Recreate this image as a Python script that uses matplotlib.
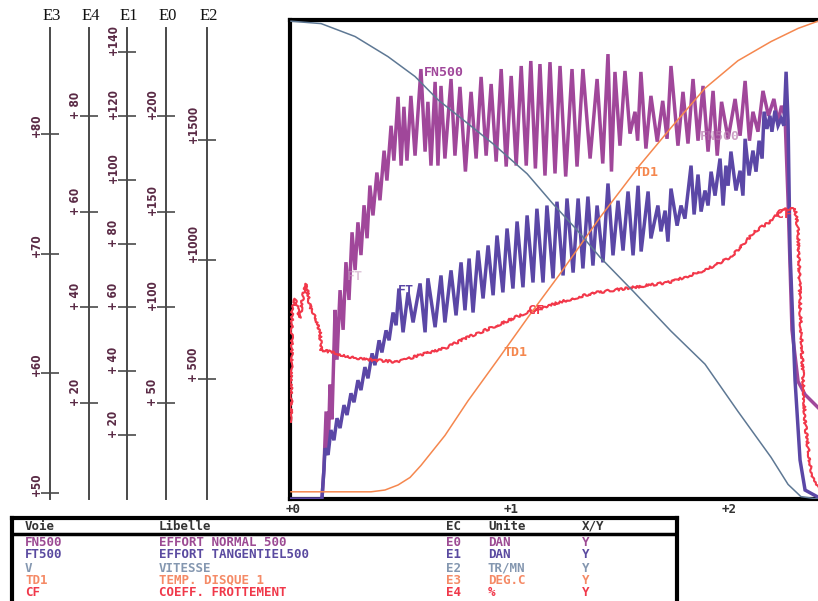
import matplotlib
matplotlib.use("Agg")
import matplotlib.pyplot as plt
from matplotlib.transforms import ScaledTranslation

W, H, DPI = 818, 601, 100

# ---------------- data ----------------
scale_order = ["E3", "E4", "E1", "E0", "E2"]
scale_lims = {"E0": (0, 250), "E1": (0, 150), "E2": (0, 2000),
              "E3": (49.5, 89.5), "E4": (0, 100)}
scale_ticks = {
    "E3": [50, 60, 70, 80],
    "E4": [20, 40, 60, 80],
    "E1": [20, 40, 60, 80, 100, 120, 140],
    "E0": [50, 100, 150, 200],
    "E2": [500, 1000, 1500],
}
scale_tick_labels = {
    "E3": ["+50", "+60", "+70", "+80"],
    "E4": ["+ 20", "+ 40", "+ 60", "+ 80"],
    "E1": ["+ 20", "+ 40", "+ 60", "+ 80", "+100", "+120", "+140"],
    "E0": ["+ 50", "+100", "+150", "+200"],
    "E2": ["+ 500", "+1000", "+1500"],
}
x_ticks = [0, 1, 2]
x_tick_labels = ["+0", "+1", "+2"]

# FN500 (E0, DAN)
fn_t = [0.0, 0.142, 0.151, 0.161, 0.170, 0.179, 0.188, 0.202, 0.211, 0.225, 0.239, 0.252,
        0.266, 0.280, 0.294, 0.307, 0.321, 0.335, 0.349, 0.362, 0.376, 0.394, 0.408, 0.427,
        0.440, 0.459, 0.472, 0.491, 0.505, 0.518, 0.532, 0.550, 0.569, 0.596, 0.615, 0.628,
        0.642, 0.661, 0.674, 0.688, 0.706, 0.734, 0.752, 0.775, 0.800, 0.826, 0.849, 0.872,
        0.895, 0.918, 0.941, 0.964, 0.987, 1.010, 1.033, 1.056, 1.079, 1.100, 1.121, 1.142,
        1.165, 1.188, 1.211, 1.234, 1.260, 1.289, 1.312, 1.339, 1.372, 1.404, 1.430, 1.454,
        1.470, 1.486, 1.509, 1.532, 1.555, 1.578, 1.590, 1.605, 1.628, 1.651, 1.680, 1.705,
        1.725, 1.743, 1.775, 1.798, 1.821, 1.844, 1.867, 1.890, 1.913, 1.936, 1.955, 1.975,
        2.005, 2.037, 2.060, 2.083, 2.103, 2.119, 2.142, 2.165, 2.190, 2.215, 2.234, 2.250,
        2.266, 2.280, 2.298, 2.326, 2.358, 2.417]
fn_v = [0, 0, 15.6, 45.7, 23.4, 59.7, 41.6, 98.7, 72.7, 109, 88.3, 123.6,
        103.9, 139.2, 119.5, 144.4, 127.3, 153.3, 136.1, 163.6, 148, 170.4, 155.9, 181.8,
        166.2, 194.8, 176.6, 209.9, 174, 204.7, 176.6, 210.4, 179.2, 224.4, 181.3, 207.3,
        174, 217.7, 174, 215.6, 177.7, 219.2, 179.2, 215.1, 170.9, 212.5, 177.7, 220.3,
        179.2, 216.6, 176.1, 224.4, 173.5, 220.8, 174, 226, 174, 228.6, 172.5, 227,
        168.8, 228, 169.9, 226, 168.3, 224.4, 173.5, 224.4, 177.7, 219.2, 175.1, 232.2,
        170.9, 222.9, 184.4, 223.4, 190.7, 202.1, 187, 222.9, 182.9, 210.4, 186.5, 207.8,
        188, 226, 184.4, 212.5, 185.5, 219.2, 187, 215.6, 181.3, 213, 179.2, 207.3,
        188.1, 208.8, 189.6, 218.2, 187, 202.1, 191.7, 213, 200, 208.8, 196.9, 205.2,
        200, 155.9, 88.3, 61.3, 54.5, 47.8]

# FT500 (E1, DAN)
ft_t = [0.0, 0.142, 0.151, 0.156, 0.170, 0.183, 0.197, 0.211, 0.225, 0.243, 0.257, 0.275,
        0.289, 0.307, 0.321, 0.339, 0.353, 0.372, 0.385, 0.404, 0.417, 0.436, 0.450, 0.468,
        0.482, 0.495, 0.514, 0.537, 0.560, 0.592, 0.615, 0.628, 0.661, 0.688, 0.706, 0.734,
        0.757, 0.780, 0.798, 0.817, 0.835, 0.858, 0.881, 0.904, 0.927, 0.945, 0.972, 0.991,
        1.018, 1.037, 1.064, 1.083, 1.110, 1.128, 1.156, 1.174, 1.202, 1.220, 1.248, 1.266,
        1.294, 1.317, 1.339, 1.362, 1.385, 1.404, 1.431, 1.454, 1.477, 1.500, 1.523, 1.546,
        1.569, 1.592, 1.606, 1.638, 1.651, 1.683, 1.697, 1.716, 1.729, 1.743, 1.771, 1.789,
        1.807, 1.835, 1.849, 1.867, 1.881, 1.899, 1.913, 1.927, 1.945, 1.968, 1.982, 1.995,
        2.005, 2.018, 2.041, 2.060, 2.073, 2.083, 2.101, 2.119, 2.133, 2.147, 2.161, 2.170,
        2.183, 2.197, 2.206, 2.220, 2.234, 2.248, 2.261, 2.271, 2.280, 2.289, 2.312, 2.335,
        2.358, 2.417]
ft_v = [0, 0, 9.1, 15.9, 13.8, 21.6, 18.4, 25.3, 22.2, 29.4, 26.3, 33.1,
        30.3, 37.2, 34.1, 41.3, 37.8, 45.6, 41.9, 49.7, 45.9, 52.8, 49.7, 58.4,
        54.4, 65.9, 52.2, 64.7, 55.3, 67.5, 52.2, 69.1, 53.8, 70, 55.3, 71.6,
        57.5, 74.1, 59.1, 75.3, 58.4, 77.8, 62.8, 79.4, 63.8, 82.5, 64.7, 84.7,
        65.9, 86.9, 66.3, 88.8, 67.8, 90.9, 67.8, 91.9, 69.1, 93.1, 70, 94.1,
        70.9, 94.1, 72.2, 94.7, 73.1, 91.9, 74.1, 98.8, 76.3, 93.4, 77.8, 96.3,
        76.3, 98.1, 77.5, 96.3, 81.6, 91.9, 83.8, 90.3, 80.6, 97.2, 85.6, 91.9,
        87.8, 104.4, 89.1, 101.6, 90, 96.6, 91.9, 102.5, 95, 106.6, 91.9, 104.4,
        98.1, 108.8, 96.6, 102.8, 95, 112.8, 101.3, 109.1, 102.5, 112.2, 106.6, 121.3,
        115.9, 120, 115, 121.6, 116.9, 119.1, 116.9, 133.8, 118.4, 77.8, 37.2, 12.2,
        2.8, 0.6]

# V (E2, TR/MN)
v_t = [0.0, 0.138, 0.294, 0.445, 0.569, 0.674, 0.812, 0.927, 1.083, 1.202, 1.312,
       1.417, 1.569, 1.743, 1.899, 2.050, 2.202, 2.280, 2.339, 2.417]
v_v = [1995, 1985, 1931, 1847, 1764, 1667, 1567, 1483, 1358, 1232, 1123,
       1010, 868, 701, 563, 366, 174, 61, 10, 0]

# TD1 (E3, DEG.C)
td_t = [0.0, 0.179, 0.367, 0.431, 0.491, 0.546, 0.596, 0.706, 0.812, 0.959, 1.096,
        1.234, 1.417, 1.601, 1.743, 1.899, 2.050, 2.202, 2.326, 2.417]
td_v = [50.1, 50.1, 50.1, 50.25, 50.67, 51.3, 52.3, 54.8, 57.7, 61.4, 64.9,
        68.3, 73.0, 77.4, 80.5, 83.8, 86.1, 87.7, 88.8, 89.4]

# CF (E4, %)
cf_t = [0.0, 0.005, 0.018, 0.041, 0.055, 0.069, 0.087, 0.110, 0.133, 0.138, 0.183,
        0.229, 0.294, 0.385, 0.491, 0.596, 0.706, 0.812, 0.927, 1.083, 1.234, 1.385,
        1.541, 1.743, 1.899, 2.018, 2.128, 2.202, 2.248, 2.312, 2.326, 2.339, 2.358,
        2.385, 2.417]
cf_v = [16.1, 39.0, 41.8, 37.8, 42.4, 44.9, 40.3, 38.2, 34.9, 31.1, 30.7,
        30.1, 29.4, 29.0, 28.6, 30.1, 31.5, 33.8, 35.9, 39.0, 41.1, 43.0,
        44.0, 45.3, 47.8, 50.5, 55.9, 58.0, 60.3, 60.7, 56.2, 35.3, 16.1,
        5.6, 2.3]

# table
voie = ["FN500", "FT500", "V", "TD1", "CF"]
libelle = ["EFFORT NORMAL 500", "EFFORT TANGENTIEL500", "VITESSE",
           "TEMP. DISQUE 1", "COEFF. FROTTEMENT"]
ec = ["E0", "E1", "E2", "E3", "E4"]
unite = ["DAN", "DAN", "TR/MN", "DEG.C", "%"]
xy = ["Y", "Y", "Y", "Y", "Y"]
row_colors = ["#9c4a93", "#5a4aa0", "#8497b0", "#f58a66", "#f0384a"]
headers = ["Voie", "Libelle", "EC", "Unite", "X/Y"]

# ---------------- layout helpers ----------------
def fx(px):
    return px / W

def fy(py):
    return 1 - py / H

fig = plt.figure(figsize=(W / DPI, H / DPI), dpi=DPI)
fig.patch.set_facecolor("white")

PL, PR, PT, PB = 290, 860, 20, 499  # plot frame in pixels

# ---------------- main plot ----------------
ax = fig.add_axes([fx(PL), fy(PB), (PR - PL) / W, (PB - PT) / H])
ax.set_xlim(-0.0046, 2.61)
ax.set_ylim(*scale_lims["E0"])
for s in ax.spines.values():
    s.set_linewidth(3.0)
    s.set_color("black")
ax.set_yticks([])
ax.set_xticks(x_ticks, x_tick_labels)
ax.tick_params(axis="x", length=0, pad=3, labelsize=9, labelcolor="#333333")
for lbl in ax.get_xticklabels():
    lbl.set_fontfamily("DejaVu Sans Mono")
    lbl.set_fontweight("bold")
    lbl.set_horizontalalignment("left")
    lbl.set_transform(lbl.get_transform() + ScaledTranslation(-5 / DPI, 0, fig.dpi_scale_trans))

ax.plot(fn_t, fn_v, color="#a0479a", lw=2.5, solid_joinstyle="miter")

def twin(lims):
    t = ax.twinx()
    t.set_ylim(*lims)
    t.set_yticks([])
    for s in t.spines.values():
        s.set_visible(False)
    return t

ax_ft = twin(scale_lims["E1"])
ax_ft.plot(ft_t, ft_v, color="#5b47a6", lw=2.5, solid_joinstyle="miter")
ax_cf = twin(scale_lims["E4"])
cf_line, = ax_cf.plot(cf_t, cf_v, color="#f2384a", lw=1.5)
cf_line.set_sketch_params(scale=1.2, length=5, randomness=12)
ax_td = twin(scale_lims["E3"])
ax_td.plot(td_t, td_v, color="#f5874e", lw=1.1)
ax_v = twin(scale_lims["E2"])
ax_v.plot(v_t, v_v, color="#5e7894", lw=1.1)

# curve labels inside plot
def plot_label(px, py, s, c, alpha=1.0):
    fig.text(fx(px), fy(py), s, color=c, fontsize=9.5, fontfamily="DejaVu Sans Mono",
             fontweight="bold", ha="center", va="center", alpha=alpha)

plot_label(444, 72, "FN500", "#a0479a")
plot_label(720, 137, "FN500", "#b77aae", 0.7)
plot_label(646, 172, "TD1", "#f5874e")
plot_label(515, 353, "TD1", "#f5874e")
plot_label(406, 290, "FT", "#5b47a6")
plot_label(355, 277, "FT", "#c9a0c2", 0.6)
plot_label(536, 311, "CF", "#f2384a")
plot_label(784, 215, "CF", "#f2384a")

# ---------------- left scales ----------------
scale_x = {"E3": 50, "E4": 89, "E1": 127, "E0": 166, "E2": 207}
for name in scale_order:
    lo, hi = scale_lims[name]
    sa = fig.add_axes([fx(scale_x[name]), fy(PB), 1 / W, (PB - PT) / H])
    sa.set_ylim(lo, hi)
    sa.patch.set_visible(False)
    for k in ("top", "right", "bottom"):
        sa.spines[k].set_visible(False)
    sa.spines["left"].set_linewidth(1.4)
    sa.spines["left"].set_color("#4a4a4a")
    sa.spines["left"].set_bounds(lo, lo + (hi - lo) * (PB - 28) / (PB - PT))
    sa.set_xticks([])
    sa.set_yticks(scale_ticks[name], scale_tick_labels[name])
    sa.tick_params(axis="y", direction="inout", length=13, width=1.2, color="#4a4a4a",
                   pad=-1.5, labelsize=8.5, labelcolor="#5a2a45", labelrotation=90)
    for lbl in sa.get_yticklabels():
        lbl.set_verticalalignment("bottom")
        lbl.set_fontstretch("condensed")
        lbl.set_fontweight("bold")
        lbl.set_transform(lbl.get_transform() + ScaledTranslation(0, -3 / DPI, fig.dpi_scale_trans))
    fig.text(fx(scale_x[name] + 2), fy(16), name, ha="center", va="center",
             fontfamily="Liberation Serif", fontsize=12, color="#111111")

# ---------------- table ----------------
TL, TR, TT, TB = 12, 677, 518, 640
tab = fig.add_axes([fx(TL), fy(TB), (TR - TL) / W, (TB - TT) / H])
tab.set_xticks([])
tab.set_yticks([])
for k, s in tab.spines.items():
    s.set_linewidth(3.0)
    s.set_color("black")
tab.spines["bottom"].set_visible(False)
tab.axhline((TB - 534) / (TB - TT), color="black", lw=2.5)

col_x = [25, 159, 446, 488, 582]
for cx, h in zip(col_x, headers):
    fig.text(fx(cx), fy(526), h, color="#333333", fontsize=9,
             fontfamily="DejaVu Sans Mono", fontweight="bold", va="center", ha="left")
row_y = [543, 555, 568, 580, 592]
for i in range(len(voie)):
    for cx, s in zip(col_x, [voie[i], libelle[i], ec[i], unite[i], xy[i]]):
        fig.text(fx(cx), fy(row_y[i]), s, color=row_colors[i], fontsize=9,
                 fontfamily="DejaVu Sans Mono", fontweight="bold", va="center", ha="left")

fig.savefig("out.png", dpi=DPI)
